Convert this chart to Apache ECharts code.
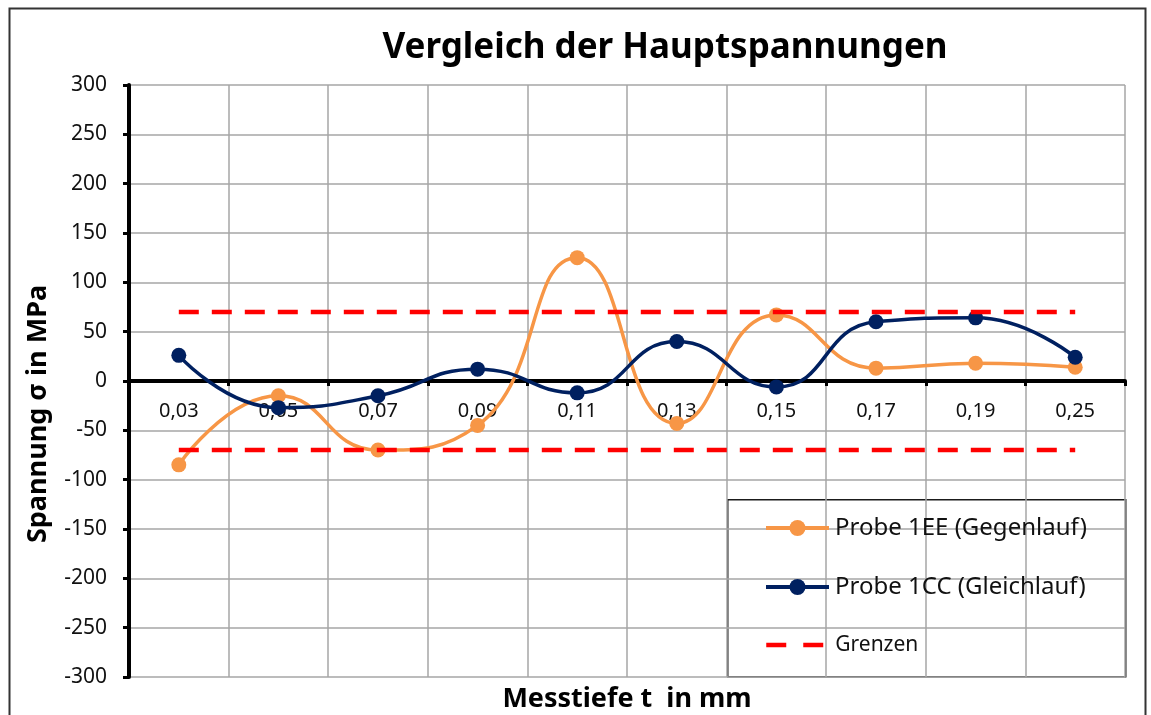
<!DOCTYPE html>
<html>
<head>
<meta charset="utf-8">
<script src="https://cdn.jsdelivr.net/npm/echarts@6/dist/echarts.min.js"></script>
<style>
  html, body { margin: 0; padding: 0; background: #ffffff; }
  #chart { width: 1151px; height: 715px; }
</style>
</head>
<body>
<div id="chart"></div>
<script>
// Messtiefen (Kategorien der x-Achse)
const categories = ['0,03', '0,05', '0,07', '0,09', '0,11', '0,13', '0,15', '0,17', '0,19', '0,25'];
// Hauptspannungen in MPa
const probe1EE = [-85, -15, -70, -45, 125, -43, 67, 13, 18, 14];
const probe1CC = [26, -27, -15, 12, -12, 40, -6, 60, 64, 24];
// Grenzwerte
const upperLimit = [70, 70, 70, 70, 70, 70, 70, 70, 70, 70];
const lowerLimit = [-70, -70, -70, -70, -70, -70, -70, -70, -70, -70];
// Achsenskala
const yMin = -300;
const yMax = 300;
const yStep = 50;

const names = ['Probe 1EE (Gegenlauf)', 'Probe 1CC (Gleichlauf)', 'Grenzen'];
const FONT = '"Noto Sans", "Open Sans", sans-serif';
const ORANGE = '#F79646';
const NAVY = '#002060';
const RED = '#FF0000';
const GRID = '#a6a6a6';
const TEXT = '#111111';
const LIMIT_DASH = [20, 13];
const SMOOTH = 0.5;

const GRID_TOP = 85;
const GRID_BOTTOM = 38;
const PLOT_HEIGHT = 715 - GRID_TOP - GRID_BOTTOM;
// x-Achse auf der Nulllinie: Abstand von der Unterkante des Plotbereichs
const zeroShift = PLOT_HEIGHT * (0 - yMin) / (yMax - yMin);

const chart = echarts.init(document.getElementById('chart'), null, { renderer: 'canvas' });

function legendAt(name, centerY, fontSize, color, dashed) {
  return {
    data: [name],
    orient: 'vertical',
    left: 764,
    top: centerY - 12,
    padding: 0,
    itemWidth: 63,
    itemHeight: 20,
    itemGap: 0,
    z: 30,
    selectedMode: false,
    lineStyle: { color: color, width: dashed ? 4.5 : 4, type: dashed ? [20, 17] : 'solid' },
    itemStyle: dashed ? { opacity: 0 } : { color: color },
    textStyle: { fontFamily: FONT, fontSize: fontSize, color: TEXT, lineHeight: 24, padding: [0, 0, 0, 1] }
  };
}

chart.setOption({
  animation: false,
  backgroundColor: '#ffffff',
  grid: { left: 129, right: 26, top: GRID_TOP, bottom: GRID_BOTTOM, containLabel: false },
  xAxis: {
    type: 'category',
    data: categories,
    boundaryGap: true,
    offset: -zeroShift,
    axisLine: { show: true, onZero: false, lineStyle: { color: '#000000', width: 4 } },
    axisTick: { show: true, inside: false, length: 5, interval: 0, lineStyle: { color: '#000000', width: 3 } },
    axisLabel: { interval: 0, margin: 20, fontFamily: FONT, fontSize: 20, color: TEXT },
    splitLine: { show: true, interval: 0, lineStyle: { color: GRID, width: 1.5 } }
  },
  yAxis: {
    type: 'value',
    min: yMin,
    max: yMax,
    interval: yStep,
    axisLine: { show: true, onZero: false, lineStyle: { color: '#000000', width: 4 } },
    axisTick: { show: true, length: 6, lineStyle: { color: '#000000', width: 3 } },
    axisLabel: { margin: 22, fontFamily: FONT, fontSize: 21, color: TEXT },
    splitLine: { show: true, lineStyle: { color: GRID, width: 1.5 } }
  },
  legend: [
    legendAt(names[0], 528, 24, ORANGE, false),
    legendAt(names[1], 587, 24, NAVY, false),
    legendAt(names[2], 645, 21, RED, true)
  ],
  graphic: {
    z: 10,
    elements: [
      // Rahmen des Diagrammbereichs
      { type: 'rect', left: 7, top: 6, shape: { width: 1136, height: 730 }, style: { fill: 'none', stroke: '#333333', lineWidth: 2 }, silent: true },
      // Legendenkasten
      { type: 'rect', left: 727, top: 499, shape: { width: 398, height: 177 }, style: { fill: '#ffffff', stroke: '#1a1a1a', lineWidth: 1.5 }, silent: true },
      // Titel
      { type: 'text', x: 665, y: 48, style: { text: 'Vergleich der Hauptspannungen', font: 'bold 35px ' + FONT, fill: '#000000', textAlign: 'center', textVerticalAlign: 'middle' }, silent: true },
      // y-Achsentitel
      { type: 'text', x: 38, y: 414, rotation: Math.PI / 2, style: { text: 'Spannung σ in MPa', font: 'bold 27px ' + FONT, fill: '#000000', textAlign: 'center', textVerticalAlign: 'middle' }, silent: true },
      // x-Achsentitel
      { type: 'text', x: 627, y: 699, style: { text: 'Messtiefe t  in mm', font: 'bold 27px ' + FONT, fill: '#000000', textAlign: 'center', textVerticalAlign: 'middle' }, silent: true }
    ]
  },
  series: [
    {
      name: names[0], type: 'line', data: probe1EE, smooth: SMOOTH,
      symbol: 'circle', symbolSize: 15, z: 3,
      lineStyle: { color: ORANGE, width: 3.5 }, itemStyle: { color: ORANGE }
    },
    {
      name: names[1], type: 'line', data: probe1CC, smooth: SMOOTH,
      symbol: 'circle', symbolSize: 15, z: 4,
      lineStyle: { color: NAVY, width: 3.5 }, itemStyle: { color: NAVY }
    },
    {
      name: names[2], type: 'line', data: upperLimit, symbol: 'none', z: 5,
      lineStyle: { color: RED, width: 4.5, type: LIMIT_DASH }, itemStyle: { color: RED }
    },
    {
      name: names[2], type: 'line', data: lowerLimit, symbol: 'none', z: 5,
      lineStyle: { color: RED, width: 4.5, type: LIMIT_DASH }, itemStyle: { color: RED }
    }
  ]
});
</script>
</body>
</html>
